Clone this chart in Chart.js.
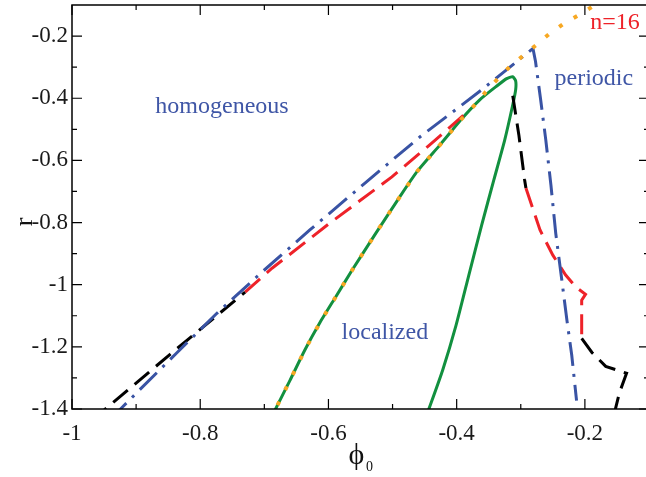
<!DOCTYPE html>
<html>
<head>
<meta charset="utf-8">
<script src="https://cdn.jsdelivr.net/npm/chart.js@4.4.1/dist/chart.umd.min.js"></script>
<style>
  html, body { margin: 0; padding: 0; background: #fff; overflow: hidden; }
  #wrap { width: 652px; height: 477px; }
</style>
</head>
<body>
<div id="wrap"><canvas id="phaseChart" width="652" height="477"></canvas></div>
<script>
// tick values
const xTicks = [-1, -0.8, -0.6, -0.4, -0.2];
const xMinorTicks = [-0.9, -0.7, -0.5, -0.3];
const yTicks = [-1.4, -1.2, -1, -0.8, -0.6, -0.4, -0.2];
const yMinorTicks = [-1.3, -1.1, -0.9, -0.7, -0.5, -0.3];

// green: localized region boundary (left branch up to the tip, then down the right branch)
const localizedPhi = [-0.691, -0.682, -0.660, -0.637, -0.613, -0.588, -0.563, -0.526, -0.489, -0.461, -0.426, -0.392, -0.364, -0.337, -0.322, -0.3125, -0.308, -0.308, -0.3125, -0.325, -0.342, -0.361, -0.381, -0.401, -0.422, -0.443, -0.450];
const localizedR = [-1.437, -1.398, -1.308, -1.211, -1.121, -1.037, -0.953, -0.834, -0.718, -0.634, -0.550, -0.466, -0.405, -0.360, -0.337, -0.331, -0.344, -0.373, -0.421, -0.534, -0.663, -0.808, -0.969, -1.131, -1.276, -1.398, -1.437];

// orange dotted: n=16 curve
const n16Phi = [-0.691, -0.682, -0.660, -0.637, -0.613, -0.588, -0.563, -0.526, -0.489, -0.461, -0.426, -0.392, -0.364, -0.3546, -0.337, -0.317, -0.275, -0.255, -0.233, -0.208, -0.188, -0.161];
const n16R = [-1.437, -1.398, -1.308, -1.211, -1.121, -1.037, -0.953, -0.834, -0.718, -0.634, -0.550, -0.466, -0.405, -0.379, -0.340, -0.298, -0.227, -0.192, -0.160, -0.131, -0.105, -0.073];

// blue dash-dot: homogeneous / periodic boundary
const periodicPhi = [-0.941, -0.922, -0.836, -0.774, -0.704, -0.629, -0.543, -0.457, -0.361, -0.281, -0.277, -0.269, -0.261, -0.253, -0.2455, -0.236, -0.228, -0.2205, -0.213];
const periodicR = [-1.437, -1.395, -1.218, -1.092, -0.960, -0.824, -0.673, -0.524, -0.373, -0.240, -0.282, -0.405, -0.534, -0.679, -0.834, -0.985, -1.115, -1.227, -1.373];

// dashed boundary, left part (black then red)
const leftBlackPhi = [-0.969, -0.945, -0.847, -0.730];
const leftBlackR = [-1.437, -1.395, -1.224, -1.024];
const leftRedPhi = [-0.730, -0.688, -0.598, -0.501, -0.442, -0.3795];
const leftRedR = [-1.024, -0.947, -0.802, -0.653, -0.550, -0.437];

// dashed boundary, right part (black, red, black)
const rightBlackTopPhi = [-0.3125, -0.303, -0.294, -0.292];
const rightBlackTopR = [-0.392, -0.518, -0.663, -0.689];
const rightRedPhi = [-0.292, -0.270, -0.250, -0.230, -0.214, -0.199, -0.205, -0.205];
const rightRedR = [-0.689, -0.824, -0.905, -0.969, -1.008, -1.031, -1.050, -1.173];
const rightBlackLowPhi = [-0.205, -0.189, -0.1675, -0.135, -0.146, -0.153, -0.158];
const rightBlackLowR = [-1.173, -1.218, -1.263, -1.285, -1.347, -1.405, -1.437];

const BLUE = '#3953a4';
const RED = '#ee2229';
const GREEN = '#12903f';
const ORANGE = '#f7a823';
const TEXT_BLUE = '#3f56a6';
const SERIF = '"Liberation Serif", "DejaVu Serif", serif';

function zip(xs, ys) {
    return xs.map((x, i) => ({ x: x, y: ys[i] }));
}

function curve(xs, ys, color, width, dash) {
    return {
        data: zip(xs, ys),
        showLine: true,
        borderColor: color,
        borderWidth: width,
        borderDash: dash,
        pointRadius: 0,
        tension: 0,
        fill: false
    };
}

// region labels, given in data coordinates
const regionLabels = [
    { text: 'homogeneous', phi: -0.766, r: -0.427, color: TEXT_BLUE },
    { text: 'periodic', phi: -0.186, r: -0.337, color: TEXT_BLUE },
    { text: 'localized', phi: -0.512, r: -1.156, color: TEXT_BLUE },
    { text: 'n=16', phi: -0.153, r: -0.156, color: RED }
];

// frame with inward ticks, axis titles and labels
const framePlugin = {
    id: 'frame',
    afterDatasetsDraw(chart) {
        const { ctx, chartArea: a, scales: { x, y } } = chart;
        ctx.save();
        ctx.strokeStyle = '#000';
        ctx.lineWidth = 1.5;
        ctx.strokeRect(a.left, a.top, a.right - a.left, a.bottom - a.top);

        ctx.lineWidth = 1.2;
        ctx.beginPath();
        const xMark = (v, len) => {
            const px = x.getPixelForValue(v);
            ctx.moveTo(px, a.bottom); ctx.lineTo(px, a.bottom - len);
            ctx.moveTo(px, a.top); ctx.lineTo(px, a.top + len);
        };
        const yMark = (v, len) => {
            const py = y.getPixelForValue(v);
            ctx.moveTo(a.left, py); ctx.lineTo(a.left + len, py);
            ctx.moveTo(a.right, py); ctx.lineTo(a.right - len, py);
        };
        xTicks.forEach(v => xMark(v, 10));
        xMinorTicks.forEach(v => xMark(v, 5));
        yTicks.forEach(v => yMark(v, 10));
        yMinorTicks.forEach(v => yMark(v, 5));
        ctx.stroke();

        ctx.textAlign = 'center';
        ctx.textBaseline = 'middle';
        ctx.font = '24px ' + SERIF;
        regionLabels.forEach(l => {
            ctx.fillStyle = l.color;
            ctx.fillText(l.text, x.getPixelForValue(l.phi), y.getPixelForValue(l.r));
        });

        // axis titles
        ctx.fillStyle = '#111';
        ctx.save();
        ctx.translate(25, 222);
        ctx.rotate(-Math.PI / 2);
        ctx.font = '26px ' + SERIF;
        ctx.fillText('r', 0, 0);
        ctx.restore();

        const cx = (a.left + a.right) / 2 - 4;
        ctx.font = '30px ' + SERIF;
        ctx.fillText('\u03D5', cx, 456);
        ctx.font = '14px ' + SERIF;
        ctx.fillText('0', cx + 13, 467);
        ctx.restore();
    }
};

const tickFont = { family: SERIF, size: 23 };
const fmt = v => String(Math.round(v * 10) / 10);

new Chart(document.getElementById('phaseChart'), {
    type: 'scatter',
    data: {
        datasets: [
            curve(n16Phi, n16R, ORANGE, 4, [4, 13]),
            curve(periodicPhi, periodicR, BLUE, 3, [24, 8, 3, 8]),
            curve(leftBlackPhi, leftBlackR, '#000', 3, [19, 9]),
            curve(leftRedPhi, leftRedR, RED, 3, [20, 9]),
            curve(rightBlackTopPhi, rightBlackTopR, '#000', 3, [19, 9]),
            curve(rightRedPhi, rightRedR, RED, 3, [20, 9]),
            curve(rightBlackLowPhi, rightBlackLowR, '#000', 3, [19, 9]),
            Object.assign(curve(localizedPhi, localizedR, GREEN, 3, []), { tension: 0.2 })
        ]
    },
    options: {
        responsive: false,
        animation: false,
        layout: { padding: { left: 0, right: 3, top: 5, bottom: 0 } },
        plugins: { legend: { display: false }, tooltip: { enabled: false } },
        scales: {
            x: {
                type: 'linear',
                min: -1,
                max: -0.1,
                afterBuildTicks: s => { s.ticks = xTicks.map(v => ({ value: v })); },
                afterFit: s => { s.height = 68; s.paddingLeft = 0; s.paddingRight = 0; },
                grid: { display: false, drawTicks: false },
                border: { display: false },
                ticks: { padding: 11, font: tickFont, color: '#1a1a1a', maxRotation: 0, callback: fmt }
            },
            y: {
                type: 'linear',
                min: -1.4,
                max: -0.1,
                afterBuildTicks: s => { s.ticks = yTicks.map(v => ({ value: v })); },
                afterFit: s => { s.width = 72; s.paddingTop = 0; s.paddingBottom = 0; },
                grid: { display: false, drawTicks: false },
                border: { display: false },
                ticks: { padding: 4, font: tickFont, color: '#1a1a1a', callback: fmt }
            }
        }
    },
    plugins: [framePlugin]
});
</script>
</body>
</html>
